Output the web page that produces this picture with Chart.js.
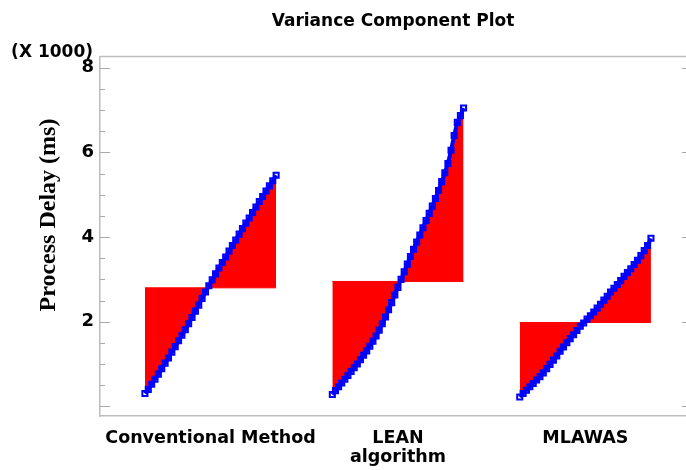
<!DOCTYPE html>
<html><head><meta charset="utf-8">
<script src="https://cdn.jsdelivr.net/npm/chart.js@4.4.1/dist/chart.umd.min.js"></script>
<style>html,body{margin:0;padding:0;background:#fff;overflow:hidden}</style>
</head><body>
<canvas id="c" width="686" height="470" style="width:686px;height:470px;display:block"></canvas>
<script>
// ---- data (values in thousands of ms) ----
const chartTitle = 'Variance Component Plot';
const yAxisTitle = 'Process Delay (ms)';
const yMultiplier = '(X 1000)';
const categories = ['Conventional Method', 'LEAN\nalgorithm', 'MLAWAS'];
const yTickValues = [2, 4, 6, 8];
const means = [2.80, 2.95, 1.98];
const conventional = [0.30,0.40,0.52,0.64,0.76,0.89,1.02,1.14,1.28,1.41,
  1.55,1.68,1.81,1.95,2.10,2.25,2.39,2.55,2.70,2.85,
  2.99,3.13,3.27,3.40,3.53,3.67,3.80,3.93,4.07,4.20,
  4.33,4.45,4.58,4.71,4.84,4.96,5.09,5.21,5.33,5.46];
const lean = [0.28,0.37,0.46,0.55,0.64,0.73,0.82,0.91,1.00,1.10,
  1.21,1.31,1.42,1.54,1.66,1.80,1.95,2.11,2.28,2.45,
  2.63,2.81,3.00,3.18,3.36,3.54,3.71,3.88,4.05,4.22,
  4.39,4.56,4.73,4.91,5.10,5.31,5.52,5.74,6.05,6.40,
  6.71,6.87,7.05];
const mlawas = [0.22,0.30,0.38,0.46,0.54,0.62,0.70,0.79,0.89,0.99,
  1.09,1.19,1.30,1.40,1.50,1.60,1.69,1.79,1.89,1.97,
  2.06,2.14,2.23,2.32,2.41,2.51,2.60,2.70,2.79,2.88,
  2.97,3.07,3.16,3.25,3.35,3.45,3.56,3.68,3.80,3.97];
const series = [conventional, lean, mlawas];

// ---- layout helpers ----
const halfWidth = 0.35;
const FONT_SANS = '"DejaVu Sans", "Liberation Sans", Arial, sans-serif';
const FONT_SERIF = '"Liberation Serif", "Times New Roman", serif';

const datasets = [];
series.forEach((vals, g) => {
  const c = g + 1, n = vals.length;
  datasets.push({
    data: vals.map((v, i) => ({x: c - halfWidth + (2 * halfWidth) * i / (n - 1), y: v})),
    borderWidth: 4,
    borderColor: '#0000ff',
    fill: {target: {value: means[g]}, above: '#ff0000', below: '#ff0000'},
    pointStyle: 'rect',
    pointRadius: 3.6,
    pointBorderWidth: 2,
    pointBorderColor: '#0000ff',
    pointBackgroundColor: 'rgba(0,0,0,0)',
    tension: 0,
    order: 0
  });
  datasets.push({
    data: [{x: c - halfWidth, y: means[g]}, {x: c + halfWidth, y: means[g]}],
    borderColor: '#ff0000',
    borderWidth: 1,
    pointRadius: 0,
    fill: false,
    order: 1
  });
});

const decor = {
  id: 'decor',
  afterDraw(chart) {
    const {ctx, chartArea: a, scales: {y}} = chart;
    ctx.save();
    ctx.strokeStyle = '#bdbdbd';
    ctx.lineWidth = 1.5;
    ctx.beginPath(); ctx.moveTo(a.left, a.top); ctx.lineTo(a.right, a.top); ctx.stroke();
    ctx.lineWidth = 1;
    ctx.strokeStyle = '#a8a8a8';
    for (let k = 0; k <= 16; k++) {
      const v = k * 0.5;
      const p = Math.round(y.getPixelForValue(v)) + 0.5;
      const major = (k % 4 === 0);
      ctx.beginPath(); ctx.moveTo(a.left, p); ctx.lineTo(a.left + (major ? 10 : 5), p); ctx.stroke();
      if (major) { ctx.beginPath(); ctx.moveTo(a.right - 4, p); ctx.lineTo(a.right, p); ctx.stroke(); }
    }
    ctx.fillStyle = '#000';
    ctx.font = 'bold 17px ' + FONT_SANS;
    ctx.textAlign = 'right';
    ctx.textBaseline = 'alphabetic';
    ctx.fillText(yMultiplier, 93, 57);
    ctx.translate(55, 215);
    ctx.rotate(-Math.PI / 2);
    ctx.font = 'bold 24px ' + FONT_SERIF;
    ctx.textAlign = 'center';
    ctx.fillText(yAxisTitle, 0, 0);
    ctx.restore();
  }
};

new Chart(document.getElementById('c'), {
  type: 'line',
  data: {datasets},
  plugins: [decor],
  options: {
    responsive: false,
    animation: false,
    devicePixelRatio: 1,
    layout: {autoPadding: false, padding: {left: 0, right: 0, top: 0, bottom: 0}},
    plugins: {
      legend: {display: false},
      tooltip: {enabled: false},
      title: {
        display: true, text: chartTitle, fullSize: false, color: '#000',
        font: {family: FONT_SANS, size: 17, weight: 'bold', lineHeight: 1.2},
        padding: {top: 11, bottom: 25}
      }
    },
    scales: {
      x: {
        type: 'linear', min: 0.4103, max: 3.537,
        grid: {display: false, drawTicks: false},
        border: {display: true, color: '#bdbdbd', width: 1.5},
        afterFit(s) { s.height = 54; s.paddingRight = 0; s.paddingLeft = 0; },
        afterBuildTicks(s) { s.ticks = categories.map((_, i) => ({value: i + 1})); },
        ticks: {
          autoSkip: false, maxRotation: 0, minRotation: 0, padding: 13, color: '#000',
          font: {family: FONT_SANS, size: 17.5, weight: 'bold', lineHeight: 1.1},
          callback: (v) => { const lab = categories[Math.round(v) - 1]; return lab ? lab.split('\n') : ''; }
        }
      },
      y: {
        type: 'linear', min: -0.23, max: 8.27,
        grid: {display: false, drawTicks: false},
        border: {display: true, color: '#bdbdbd', width: 1.5},
        afterFit(s) { s.width = 100; s.paddingTop = 0; s.paddingBottom = 0; },
        afterBuildTicks(s) { s.ticks = yTickValues.map(v => ({value: v})); },
        ticks: {
          padding: 6, color: '#000',
          font: {family: FONT_SANS, size: 18, weight: 'bold'},
          callback: (v) => String(v)
        }
      }
    }
  }
});
</script>
</body></html>
